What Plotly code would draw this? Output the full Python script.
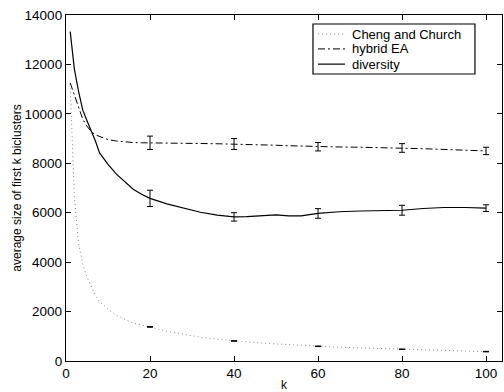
import plotly.graph_objects as go

# number of biclusters considered
k = [1, 2, 3, 4, 5, 6, 7, 8, 10, 12, 14, 16, 18, 20, 24, 28, 32, 36, 40, 43,
     46, 50, 53, 56, 60, 65, 70, 75, 80, 85, 90, 95, 100]

cheng_church = [11200, 6600, 4750, 3900, 3400, 3000, 2650, 2400, 2100, 1850,
                1680, 1530, 1450, 1380, 1200, 1080, 960, 880, 810, 770,
                735, 690, 660, 630, 595, 560, 530, 500, 475, 450, 420, 400, 380]

hybrid_ea = [11250, 10750, 10230, 9780, 9500, 9280, 9150, 9080, 8960, 8900,
             8860, 8840, 8830, 8830, 8820, 8810, 8800, 8790, 8780, 8760,
             8750, 8730, 8710, 8690, 8670, 8660, 8650, 8640, 8620, 8590, 8560, 8530, 8500]

diversity = [13330, 11800, 10900, 10150, 9720, 9320, 8900, 8420, 7960, 7560,
             7250, 6950, 6750, 6580, 6360, 6180, 6020, 5900, 5830, 5840,
             5860, 5910, 5870, 5870, 5970, 6040, 6070, 6080, 6100, 6170, 6210, 6210, 6185]

# standard deviations shown at selected k
err_k = [20, 40, 60, 80, 100]
cheng_err = [15, 12, 12, 10, 10]
hybrid_err = [270, 220, 170, 175, 150]
diversity_err = [330, 170, 195, 200, 135]

series = [
    ("Cheng and Church", cheng_church, cheng_err,
     dict(color="#8c8c8c", width=1, dash="1px,3px")),
    ("hybrid EA", hybrid_ea, hybrid_err,
     dict(color="black", width=1, dash="7px,3px,2px,3px")),
    ("diversity", diversity, diversity_err,
     dict(color="black", width=1.2, dash="solid")),
]

fig = go.Figure()
for name, vals, errs, line in series:
    fig.add_trace(go.Scatter(x=k, y=vals, mode="lines", name=name, line=line,
                             showlegend=False))
for name, vals, errs, line in series:
    yv = [vals[k.index(v)] for v in err_k]
    fig.add_trace(go.Scatter(
        x=err_k, y=yv, mode="markers", showlegend=False,
        marker=dict(size=1, color="rgba(0,0,0,0)"),
        error_y=dict(type="data", array=errs, visible=True,
                     color="black", thickness=1, width=3),
        hoverinfo="skip"))

font = "Liberation Sans, Arial, Helvetica, sans-serif"

# boxed legend in the upper right of the axes
box = dict(x0=0.5665, x1=0.938, y0=0.8295, y1=0.974)
fig.add_shape(type="rect", xref="paper", yref="paper", **box,
              line=dict(color="black", width=1.2), fillcolor="white", layer="above")
rows = [0.945, 0.902, 0.858]
for (name, vals, errs, line), ry in zip(series, rows):
    fig.add_shape(type="line", xref="paper", yref="paper",
                  x0=0.578, x1=0.640, y0=ry, y1=ry, layer="above",
                  line=dict(color=line["color"], width=line["width"], dash=line["dash"]))
    fig.add_annotation(text=name, xref="paper", yref="paper", x=0.652, y=ry,
                       xanchor="left", yanchor="middle", showarrow=False,
                       font=dict(family=font, size=13, color="black"))

axis_common = dict(
    showline=True, linecolor="black", linewidth=1.3, mirror="ticks",
    ticks="inside", ticklen=5, tickcolor="black", showgrid=False,
    zeroline=False, automargin=False,
    tickfont=dict(family=font, size=13.5, color="black"),
)
fig.update_layout(
    width=504, height=392,
    margin=dict(l=66, r=2, t=15, b=31),
    paper_bgcolor="white", plot_bgcolor="white",
    font=dict(family=font, color="black"),
    xaxis=dict(range=[0, 103.8], tickvals=[0, 20, 40, 60, 80, 100],
               ticktext=["0", "20", "40", "60", "80", "100"],
               title=dict(text="k", font=dict(size=12), standoff=1),
               **axis_common),
    yaxis=dict(range=[0, 14000], tickvals=list(range(0, 14001, 2000)),
               ticktext=[str(v) for v in range(0, 14001, 2000)],
               title=dict(text="average size of first k biclusters",
                          font=dict(size=12), standoff=0),
               **axis_common),
    showlegend=False,
)

fig.write_html("out.html")
